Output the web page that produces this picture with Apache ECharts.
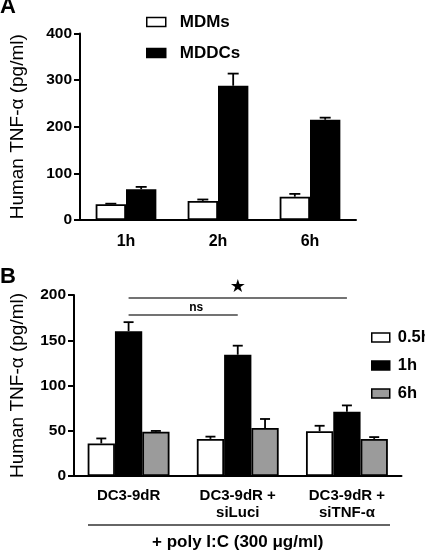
<!DOCTYPE html>
<html>
<head>
<meta charset="utf-8">
<script src="https://cdn.jsdelivr.net/npm/echarts@6/dist/echarts.min.js"></script>
<style>
html,body{margin:0;padding:0;background:#fff;}
#chart{width:425px;height:552px;}
</style>
</head>
<body>
<div id="chart"></div>
<script>
// ---- Panel A data ----
const catsA = ['1h', '2h', '6h'];
const mdmMean = [34, 41, 50];
const mdmErr = [1, 3, 6];
const mddcMean = [66, 288, 215];
const mddcErr = [5, 26, 4.5];
const ticksA = [0, 100, 200, 300, 400];

// ---- Panel B data ----
const catsB = ['DC3-9dR', 'DC3-9dR +\nsiLuci', 'DC3-9dR +\nsiTNF-\u03b1'];
const h05Mean = [36, 41, 49.5];
const h05Err = [5.5, 2.5, 6];
const h1Mean = [160, 134, 71];
const h1Err = [10, 10, 7];
const h6Mean = [49, 53, 41];
const h6Err = [0.8, 10, 2];
const ticksB = [0, 50, 100, 150, 200];

const FONT = '"Liberation Sans", Arial, sans-serif';

function errData(mean, err) {
  return mean.map((m, i) => [i, m, m + err[i]]);
}

function errSeries(name, mean, err, axisIdx, slot, nSlots, frac, capW) {
  return {
    type: 'custom',
    name: name + ' err',
    xAxisIndex: axisIdx, yAxisIndex: axisIdx,
    silent: true, z: 3,
    data: errData(mean, err),
    encode: { x: 0, y: [1, 2] },
    renderItem: function (params, api) {
      const band = api.size([1, 0])[0];
      const off = (slot - (nSlots - 1) / 2) * band * frac;
      const p0 = api.coord([api.value(0), api.value(1)]);
      const p1 = api.coord([api.value(0), api.value(2)]);
      const x = p0[0] + off;
      const st = { stroke: '#000', lineWidth: 1.8, fill: null };
      return {
        type: 'group',
        children: [
          { type: 'line', shape: { x1: x, y1: p0[1], x2: x, y2: p1[1] }, style: st },
          { type: 'line', shape: { x1: x - capW / 2, y1: p1[1], x2: x + capW / 2, y2: p1[1] }, style: st }
        ]
      };
    }
  };
}

const barBorder = { borderColor: '#000', borderWidth: 1.8 };

const chart = echarts.init(document.getElementById('chart'), null, { renderer: 'canvas' });

const axisLabelY = { color: '#000', fontFamily: FONT, fontWeight: 'bold', fontSize: 15.5, margin: 8 };
const axisLineStyle = { color: '#000', width: 2 };

const option = {
  animation: false,
  backgroundColor: '#fff',
  textStyle: { fontFamily: FONT },
  graphic: [
    { type: 'text', left: 0, top: -4, style: { text: 'A', font: 'bold 22px ' + FONT, fill: '#000' } },
    { type: 'text', left: 0, top: 266, style: { text: 'B', font: 'bold 22px ' + FONT, fill: '#000' } },
    { type: 'line', shape: { x1: 88, y1: 525, x2: 390, y2: 525 }, style: { stroke: '#333', lineWidth: 1.5 } }
  ],
  legend: [
    {
      data: ['MDMs', 'MDDCs'],
      orient: 'vertical', left: 141, top: 8,
      itemWidth: 19, itemHeight: 9, itemGap: 13,
      icon: 'rect',
      itemStyle: { borderColor: '#000', borderWidth: 1.5 },
      textStyle: { color: '#000', fontFamily: FONT, fontWeight: 'bold', fontSize: 17, lineHeight: 18, padding: [0, 0, 0, 9] },
      selectedMode: false
    },
    {
      data: ['0.5h', '1h', '6h'],
      orient: 'vertical', left: 366, top: 324,
      itemWidth: 18, itemHeight: 9, itemGap: 11,
      icon: 'rect',
      itemStyle: { borderColor: '#000', borderWidth: 1.5 },
      textStyle: { color: '#000', fontFamily: FONT, fontWeight: 'bold', fontSize: 16.5, lineHeight: 16, padding: [0, 0, 0, 3] },
      selectedMode: false
    }
  ],
  grid: [
    { left: 76, top: 33.5, width: 280, height: 186.5 },
    { left: 70, top: 295, width: 331.5, height: 187.3 }
  ],
  xAxis: [
    {
      type: 'category', gridIndex: 0, data: catsA,
      axisLine: { lineStyle: axisLineStyle },
      axisTick: { show: false },
      axisLabel: { color: '#000', fontFamily: FONT, fontWeight: 'bold', fontSize: 16, margin: 14 }
    },
    {
      type: 'category', gridIndex: 1, data: catsB,
      axisLine: { lineStyle: axisLineStyle },
      axisTick: { show: false },
      axisLabel: { color: '#000', fontFamily: FONT, fontWeight: 'bold', fontSize: 15, lineHeight: 17, margin: 11 },
      name: '+ poly I:C (300 \u03bcg/ml)',
      nameLocation: 'middle', nameGap: 58,
      nameTextStyle: { color: '#000', fontFamily: FONT, fontWeight: 'bold', fontSize: 17 }
    }
  ],
  yAxis: [
    {
      type: 'value', gridIndex: 0, min: ticksA[0], max: ticksA[ticksA.length - 1], interval: 100,
      axisLine: { show: true, lineStyle: axisLineStyle },
      axisTick: { show: true, length: 6, lineStyle: axisLineStyle },
      splitLine: { show: false },
      axisLabel: axisLabelY,
      name: 'Human TNF-\u03b1 (pg/ml)', nameLocation: 'middle', nameGap: 53,
      nameTextStyle: { color: '#000', fontFamily: FONT, fontSize: 19 }
    },
    {
      type: 'value', gridIndex: 1, min: ticksB[0], max: ticksB[ticksB.length - 1], interval: 50,
      axisLine: { show: true, lineStyle: axisLineStyle },
      axisTick: { show: true, length: 6, lineStyle: axisLineStyle },
      splitLine: { show: false },
      axisLabel: axisLabelY,
      name: 'Human TNF-\u03b1 (pg/ml)', nameLocation: 'middle', nameGap: 47,
      nameTextStyle: { color: '#000', fontFamily: FONT, fontSize: 19 }
    }
  ],
  series: [
    { type: 'bar', name: 'MDMs', xAxisIndex: 0, yAxisIndex: 0, data: mdmMean, barWidth: '33%', barGap: '0%',
      itemStyle: Object.assign({ color: '#fff' }, barBorder) },
    { type: 'bar', name: 'MDDCs', xAxisIndex: 0, yAxisIndex: 0, data: mddcMean, barWidth: '33%', barGap: '0%',
      itemStyle: Object.assign({ color: '#000' }, barBorder) },
    errSeries('MDMs', mdmMean, mdmErr, 0, 0, 2, 0.33, 11),
    errSeries('MDDCs', mddcMean, mddcErr, 0, 1, 2, 0.33, 11),

    { type: 'bar', name: '0.5h', xAxisIndex: 1, yAxisIndex: 1, data: h05Mean, barWidth: '25%', barGap: '0%',
      itemStyle: Object.assign({ color: '#fff' }, barBorder) },
    { type: 'bar', name: '1h', xAxisIndex: 1, yAxisIndex: 1, data: h1Mean, barWidth: '25%', barGap: '0%',
      itemStyle: Object.assign({ color: '#000' }, barBorder),
      markLine: {
        silent: true, symbol: 'none', animation: false,
        lineStyle: { color: '#444', width: 1.5, type: 'solid' },
        data: [
          [ { coord: [0, 196.5], name: '\u2605', label: { show: true, position: 'middle', formatter: '{b}', distance: 2, color: '#000', fontSize: 18, fontFamily: '"DejaVu Sans", sans-serif' } },
            { coord: [2, 196.5] } ],
          [ { coord: [0, 178.7], name: 'ns', label: { show: true, position: 'middle', formatter: '{b}', distance: 1, color: '#000', fontSize: 12, fontWeight: 'bold', fontFamily: FONT, padding: [0, 0, 0, 26] } },
            { coord: [1, 178.7] } ]
        ]
      } },
    { type: 'bar', name: '6h', xAxisIndex: 1, yAxisIndex: 1, data: h6Mean, barWidth: '25%', barGap: '0%',
      itemStyle: Object.assign({ color: '#9b9b9b' }, barBorder) },
    errSeries('0.5h', h05Mean, h05Err, 1, 0, 3, 0.25, 10),
    errSeries('1h', h1Mean, h1Err, 1, 1, 3, 0.25, 10),
    errSeries('6h', h6Mean, h6Err, 1, 2, 3, 0.25, 10)
  ]
};

chart.setOption(option);
</script>
</body>
</html>
